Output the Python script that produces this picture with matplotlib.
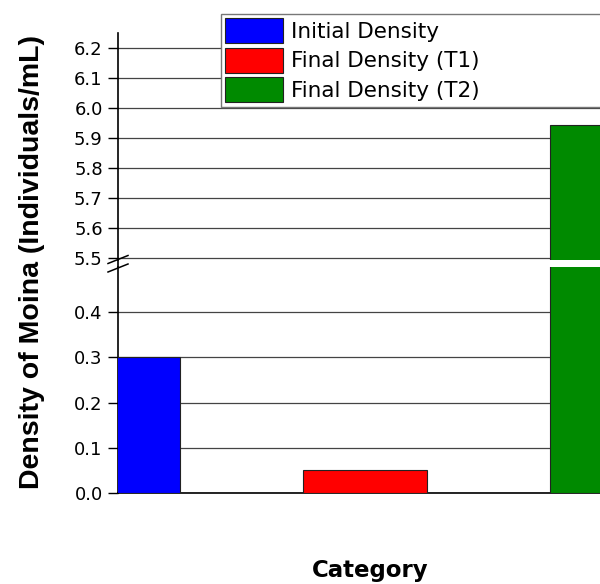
import matplotlib
matplotlib.use("Agg")
import matplotlib.pyplot as plt
from matplotlib.lines import Line2D
from matplotlib.patches import Patch

categories = ["Initial Density", "Final Density (T1)", "Final Density (T2)"]
values = [0.30, 0.05, 5.945]
colors = ["#0000FF", "#FF0000", "#008A00"]
upper_ticks = [5.5, 5.6, 5.7, 5.8, 5.9, 6.0, 6.1, 6.2]
lower_ticks = [0.0, 0.1, 0.2, 0.3, 0.4]

plt.rcParams['font.family'] = ['DejaVu Sans']

W, H = 600, 584
fig = plt.figure(figsize=(W / 100, H / 100), dpi=100)

def fx(px):
    return px / W

def fy(py):
    return 1 - py / H

x_left = 118
x_right = 600
ax_lo = fig.add_axes([fx(x_left), fy(493), fx(x_right - x_left), fy(267) - fy(493)])
ax_hi = fig.add_axes([fx(x_left), fy(259.5), fx(x_right - x_left), fy(33) - fy(259.5)])

xpos = list(range(len(categories)))
for ax in (ax_lo, ax_hi):
    ax.bar(xpos, values, width=0.5, color=colors, edgecolor="#222222", linewidth=0.8, zorder=3)
    ax.set_xlim(0, (x_right - x_left) / 247)
    for s in ("top", "right"):
        ax.spines[s].set_visible(False)
    ax.spines["left"].set_linewidth(1.2)
    ax.yaxis.grid(True, color="#444444", linewidth=0.9, zorder=0)
    ax.set_axisbelow(True)
    ax.tick_params(axis="y", direction="out", length=7, width=1.0, labelsize=13, pad=4)
    ax.tick_params(axis="x", bottom=False, labelbottom=False)

ax_lo.set_ylim(0, 0.5)
ax_lo.set_yticks(lower_ticks)
ax_lo.set_yticklabels([f"{t:.1f}" for t in lower_ticks])
ax_lo.spines["bottom"].set_linewidth(1.2)

ax_hi.set_ylim(5.4965, 6.25)
ax_hi.set_yticks(upper_ticks)
ax_hi.set_yticklabels([f"{t:.1f}" for t in upper_ticks])
ax_hi.spines["bottom"].set_visible(False)

# continuous left spine across the gap
fig.add_artist(Line2D([fx(x_left), fx(x_left)], [fy(259.5), fy(267)], color="black", linewidth=1.2))
# break marks
for dy in (0, 8.5):
    fig.add_artist(Line2D([fx(108), fx(128)], [fy(263.5 + dy), fy(255.5 + dy)],
                          color="black", linewidth=1.1))

handles = [Patch(facecolor=c, edgecolor="#222222", linewidth=0.8) for c in colors]
leg = fig.legend(handles, categories, loc="upper left",
                 bbox_to_anchor=(fx(221), fy(14) - 0.01, 1.1 - fx(221), 0.01),
                 bbox_transform=fig.transFigure, mode="expand",
                 fontsize=15.5, frameon=True, fancybox=False, framealpha=1,
                 edgecolor="#777777", borderpad=0.2, handlelength=2.7, handleheight=1.42,
                 handletextpad=0.37, labelspacing=0.2, borderaxespad=0)
leg.get_frame().set_linewidth(1.0)

fig.text(fx(32), fy(262), "Density of Moina (Individuals/mL)", rotation=90,
         ha="center", va="center", fontsize=20.5, fontweight="bold",
         family=["Liberation Sans", "DejaVu Sans"])
fig.text(fx(370), fy(571), "Category", ha="center", va="center",
         fontsize=16.5, fontweight="bold")

fig.savefig("out.png", dpi=100)
